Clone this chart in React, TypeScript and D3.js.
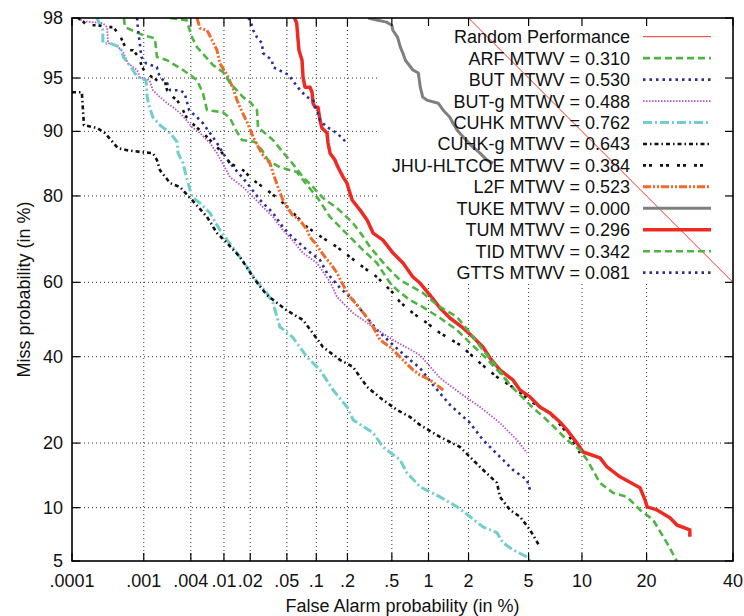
import React from "react";
import * as d3 from "d3";

// ---------- axis ticks ----------
const xTickValues = [0.0001, 0.001, 0.004, 0.01, 0.02, 0.05, 0.1, 0.2, 0.5, 1, 2, 5, 10, 20, 40];
const xTickLabels = [".0001", ".001", ".004", ".01", ".02", ".05", ".1", ".2", ".5", "1", "2", "5", "10", "20", "40"];
const yTickValues = [5, 10, 20, 40, 60, 80, 90, 95, 98];
const yTickLabels = ["5", "10", "20", "40", "60", "80", "90", "95", "98"];

// ---------- series (False alarm %, Miss %) ----------
const randomFA = [2, 3, 5, 7, 10, 15, 20, 25, 30, 35, 40];
const randomMiss = [98, 97, 95, 93, 90, 85, 80, 75, 70, 65, 60];

const arfFA = [0.00054, 0.00056, 0.001, 0.0014, 0.00149, 0.00201, 0.0032, 0.00476, 0.00563, 0.0063, 0.00973, 0.01178, 0.01416, 0.01616, 0.02266, 0.027, 0.0314, 0.0422, 0.0634, 0.0807, 0.1016, 0.1365, 0.1704, 0.2115, 0.2787, 0.371, 0.482, 0.553, 0.709, 0.904, 1.228, 1.649, 2.05, 2.607, 3.288, 4.112];
const arfMiss = [98, 97.68, 97.35, 97.23, 96.31, 96.13, 95.54, 94.85, 93.83, 92.3, 92.11, 91.48, 89.92, 88.92, 88.67, 87.56, 86.12, 85.02, 84.24, 82.0, 79.8, 75.76, 73.54, 71.27, 68.19, 64.98, 59.82, 57.98, 55.28, 53.38, 50.41, 47.16, 43.66, 39.92, 35.8, 31.56];

const butFA = [0.000815, 0.00084, 0.000886, 0.00093, 0.00107, 0.00149, 0.00154, 0.00179, 0.00201, 0.0022, 0.00294, 0.00336, 0.00353, 0.00381, 0.00476, 0.00563, 0.00684, 0.00828, 0.00973, 0.01178, 0.01846, 0.0257, 0.0356, 0.0454, 0.057, 0.0807, 0.1088, 0.1275, 0.1704, 0.2256, 0.2904, 0.371, 0.512, 0.709, 0.855, 1.085, 1.462, 2.05, 2.525, 3.288, 3.992, 4.888, 5.097];
const butMiss = [98, 97.56, 97.01, 96.31, 95.95, 95.72, 95.34, 94.85, 94.64, 94.08, 94.08, 93.83, 93.25, 92.3, 91.59, 90.94, 89.8, 88.54, 87.14, 85.65, 82.35, 79.22, 76.58, 73.54, 71.27, 68.19, 65.74, 62.43, 58.51, 55.28, 51.22, 47.16, 43.12, 39.14, 37.08, 32.79, 28.04, 24.06, 20.6, 17.48, 15.29, 13.73, 12.31];

const butgFA = [0.000122, 0.000144, 0.000277, 0.000317, 0.000328, 0.000435, 0.000533, 0.000615, 0.000815, 0.000886, 0.00119, 0.00132, 0.00163, 0.00201, 0.0024, 0.00294, 0.00353, 0.00414, 0.00518, 0.00684, 0.00828, 0.01178, 0.0166, 0.0216, 0.0277, 0.0356, 0.0454, 0.057, 0.0735, 0.1016, 0.1365, 0.1594, 0.2256, 0.3428, 0.512, 0.855, 1.228, 1.735, 2.41, 3.288, 4.233, 4.888];
const butgMiss = [98, 97.89, 97.82, 97.68, 97.01, 96.91, 96.52, 95.95, 95.54, 95.07, 94.85, 94.08, 93.51, 92.97, 92.59, 92.01, 91.27, 90.5, 89.8, 88.54, 87.14, 83.39, 81.66, 79.8, 77.81, 75.76, 72.88, 70.57, 67.46, 64.98, 60.1, 56.09, 51.76, 47.97, 44.46, 40.45, 34.51, 30.83, 27.57, 24.06, 20.6, 18.17];

const cuhkFA = [0.000228, 0.000277, 0.000277, 0.000349, 0.000478, 0.000533, 0.000615, 0.000719, 0.000815, 0.00107, 0.00111, 0.00119, 0.00132, 0.00163, 0.0022, 0.0027, 0.00277, 0.0032, 0.00353, 0.00414, 0.00518, 0.00684, 0.00897, 0.0109, 0.01416, 0.01846, 0.0244, 0.0306, 0.0356, 0.0422, 0.057, 0.0807, 0.1088, 0.1459, 0.198, 0.2256, 0.3428, 0.419, 0.586, 0.67, 0.855, 1.228, 1.649, 2.05, 2.525, 3.142, 3.444, 3.992, 4.888, 5.097];
const cuhkMiss = [98, 97.56, 97.01, 97.01, 96.82, 96.31, 95.95, 95.54, 95.07, 94.85, 93.51, 92.59, 91.59, 90.72, 89.8, 88.67, 87.14, 85.65, 83.39, 79.8, 78.63, 76.58, 72.88, 70.57, 67.46, 63.96, 59.82, 57.17, 54.47, 47.97, 45.27, 39.92, 36.57, 31.56, 27.57, 24.71, 22.01, 19.26, 16.96, 14.82, 12.73, 11.35, 10.09, 8.96, 7.89, 7.32, 6.41, 5.84, 5.29, 5.0];

const cuhkgFA = [0.0001, 0.000139, 0.000149, 0.000228, 0.000296, 0.000449, 0.000596, 0.000952, 0.00132, 0.00149, 0.00163, 0.0022, 0.00294, 0.00381, 0.00414, 0.0063, 0.00828, 0.0109, 0.01533, 0.02266, 0.0306, 0.0493, 0.0735, 0.1165, 0.1704, 0.2256, 0.3029, 0.419, 0.553, 0.709, 0.855, 1.228, 1.735, 2.41, 3.142, 3.288, 3.822, 4.423, 5.097, 5.847];
const cuhkgMiss = [93.92, 93.92, 90.72, 90.4, 89.8, 87.84, 87.56, 87.28, 87.14, 86.12, 84.55, 82.35, 81.66, 79.8, 79.22, 75.76, 72.2, 69.87, 66.47, 60.61, 56.63, 52.57, 49.86, 42.58, 39.14, 37.34, 32.3, 29.2, 26.9, 25.36, 23.65, 21.19, 19.26, 15.76, 13.29, 11.35, 9.73, 8.96, 7.6, 6.08];

const jhuFA = [0.000122, 0.000169, 0.000228, 0.000317, 0.000384, 0.000478, 0.000533, 0.000596, 0.000719, 0.000815, 0.000886, 0.000952, 0.00107, 0.00128, 0.00149, 0.0019, 0.00201, 0.0024, 0.0027, 0.0032, 0.00353, 0.00414, 0.00563, 0.00743, 0.00897, 0.01178, 0.0166, 0.0216, 0.0277, 0.0422, 0.057, 0.0807, 0.1165, 0.1594, 0.2115, 0.2787, 0.371, 0.512, 0.586, 0.75, 0.973, 1.228, 1.735, 2.41, 3.142, 4.233, 5.32, 6.69, 8.32, 9.77];
const jhuMiss = [98, 97.75, 97.75, 97.68, 97.68, 97.35, 97.01, 96.67, 96.67, 96.42, 96.13, 95.72, 95.34, 95.07, 94.85, 94.71, 94.08, 93.51, 93.25, 92.3, 91.59, 90.94, 89.8, 88.54, 87.56, 85.65, 84.55, 82.87, 81.66, 79.22, 76.78, 73.54, 71.04, 68.93, 66.47, 63.96, 61.4, 57.17, 54.74, 51.76, 49.05, 46.34, 43.12, 38.37, 34.77, 31.56, 28.5, 26.24, 22.01, 18.17];

const l2fFA = [0.00476, 0.00518, 0.0063, 0.00743, 0.00828, 0.00897, 0.0109, 0.01275, 0.01416, 0.01533, 0.01846, 0.0216, 0.0257, 0.0277, 0.033, 0.0356, 0.0402, 0.0454, 0.0493, 0.057, 0.0634, 0.0718, 0.0807, 0.0865, 0.0972, 0.1088, 0.1219, 0.1365, 0.1594, 0.182, 0.2115, 0.2458, 0.2904, 0.3428, 0.3945, 0.482, 0.586, 0.75, 0.855, 1.028, 1.3];
const l2fMiss = [98, 97.64, 97.56, 97.06, 96.67, 95.95, 95.2, 94.24, 93.25, 92.59, 91.05, 89.3, 87.56, 86.85, 85.65, 84.08, 81.66, 79.22, 78.22, 76.17, 75.53, 74.43, 72.88, 71.27, 69.87, 68.19, 66.47, 64.98, 62.43, 59.29, 56.09, 53.93, 51.22, 47.97, 44.46, 42.58, 39.92, 36.57, 35.28, 34.02, 31.56];

const tukeFA = [0.31, 0.37, 0.45, 0.5, 0.51, 0.56, 0.59, 0.62, 0.65, 0.75, 0.83, 0.86, 0.9, 0.97, 1.19, 1.3, 1.46, 1.54, 1.65, 1.83, 2.15, 2.41, 2.69, 2.96];
const tukeMiss = [98, 97.93, 97.86, 97.75, 97.56, 97.27, 96.82, 96.52, 96.13, 95.54, 95.34, 94.32, 93.51, 93.25, 92.97, 92.3, 91.59, 90.94, 90.17, 89.3, 87.98, 87.14, 86.12, 85.65];

const tumFA = [0.0601, 0.0633, 0.065, 0.0668, 0.0718, 0.0735, 0.077, 0.0865, 0.0907, 0.0928, 0.0972, 0.1039, 0.1088, 0.1138, 0.1275, 0.1304, 0.1365, 0.1525, 0.1594, 0.182, 0.198, 0.221, 0.262, 0.303, 0.343, 0.419, 0.512, 0.621, 0.75, 0.855, 1.028, 1.228, 1.462, 1.825, 2.15, 2.525, 2.823, 3.288, 3.992, 4.423, 5.097, 5.847, 6.68, 7.61, 8.32, 9.42, 10.13, 12.33, 13.33, 15.32, 18.77, 19.71, 20.1, 22.03, 24.74, 26.26, 29.21, 29.21];
const tumMiss = [98, 97.82, 97.27, 96.67, 96.13, 95.07, 94.32, 94.32, 93.92, 92.97, 92.59, 92.59, 91.27, 90.4, 89.8, 88.54, 87.14, 86.12, 85.33, 83.39, 82.35, 79.22, 77.19, 75.09, 72.2, 70.57, 67.46, 64.98, 61.4, 59.82, 56.63, 53.11, 50.41, 47.7, 45.27, 42.58, 39.66, 36.57, 34.02, 31.56, 29.9, 27.57, 26.24, 24.27, 22.62, 20.0, 18.34, 17.3, 15.76, 14.2, 12.59, 10.97, 10.09, 9.73, 8.85, 8.08, 7.6, 6.94];

const tidFA = [0.0022, 0.00353, 0.00414, 0.00476, 0.00743, 0.00973, 0.01178, 0.0166, 0.02, 0.0238, 0.0244, 0.0356, 0.0454, 0.057, 0.0735, 0.0929, 0.1165, 0.1594, 0.2256, 0.273, 0.322, 0.454, 0.586, 0.904, 1.165, 1.649, 2.05, 2.525, 3.142, 3.822, 5.097, 6.69, 8.32, 9.77, 10.62, 12.33, 14.22, 16.47, 18.77, 21.25, 24.1, 26.26];
const tidMiss = [98, 97.93, 97.27, 96.82, 95.84, 95.41, 94.64, 93.51, 93.06, 92.3, 90.5, 88.92, 87.28, 85.65, 83.39, 81.66, 79.61, 77.6, 74.43, 71.73, 68.93, 63.96, 60.61, 57.17, 53.93, 50.68, 46.34, 41.78, 37.34, 32.79, 28.04, 24.06, 20.6, 18.71, 16.96, 13.29, 11.89, 11.35, 9.73, 8.63, 6.41, 5.0];

const gttsFA = [0.019, 0.02, 0.0216, 0.0238, 0.027, 0.0277, 0.0347, 0.0356, 0.0454, 0.0527, 0.057, 0.0687, 0.0807, 0.0929, 0.1016, 0.1088, 0.1275, 0.159, 0.198];
const gttsMiss = [98, 97.93, 97.56, 97.27, 97.01, 96.52, 96.13, 95.72, 95.41, 95.2, 94.85, 94.08, 93.51, 93.25, 92.3, 91.27, 90.5, 89.8, 88.54];

const seriesLabels = [
  "Random Performance",
  "ARF MTWV = 0.310",
  "BUT MTWV = 0.530",
  "BUT-g MTWV = 0.488",
  "CUHK MTWV = 0.762",
  "CUHK-g MTWV = 0.643",
  "JHU-HLTCOE MTWV = 0.384",
  "L2F MTWV = 0.523",
  "TUKE MTWV = 0.000",
  "TUM MTWV = 0.296",
  "TID MTWV = 0.342",
  "GTTS MTWV = 0.081",
];

// ---------- styles ----------
const GREEN = "#4fb443";
const BLUE = "#2b2d96";
const styles = [
  { color: "#e8352e", width: 1, dash: "none" },
  { color: GREEN, width: 2.6, dash: "7,4" },
  { color: BLUE, width: 2.6, dash: "2.5,4" },
  { color: "#b452c8", width: 1.8, dash: "1.5,1.5" },
  { color: "#72cdcd", width: 3, dash: "9,3,2,3" },
  { color: "#111111", width: 2.6, dash: "4,3,1.5,3" },
  { color: "#111111", width: 2.6, dash: "3,3,3,8" },
  { color: "#f26a2a", width: 3, dash: "8,2,2,2,2,2" },
  { color: "#7f7f7f", width: 3, dash: "none" },
  { color: "#ee2b23", width: 3.5, dash: "none" },
  { color: GREEN, width: 2.6, dash: "7,4" },
  { color: BLUE, width: 2.6, dash: "2.5,4" },
];

const seriesData: [number[], number[]][] = [
  [randomFA, randomMiss],
  [arfFA, arfMiss],
  [butFA, butMiss],
  [butgFA, butgMiss],
  [cuhkFA, cuhkMiss],
  [cuhkgFA, cuhkgMiss],
  [jhuFA, jhuMiss],
  [l2fFA, l2fMiss],
  [tukeFA, tukeMiss],
  [tumFA, tumMiss],
  [tidFA, tidMiss],
  [gttsFA, gttsMiss],
];

// inverse of the standard normal CDF (Acklam)
function probit(p: number): number {
  const a = [-3.969683028665376e1, 2.209460984245205e2, -2.759285104469687e2, 1.38357751867269e2, -3.066479806614716e1, 2.506628277459239];
  const b = [-5.447609879822406e1, 1.615858368580409e2, -1.556989798598866e2, 6.680131188771972e1, -1.328068155288572e1];
  const c = [-7.784894002430293e-3, -3.223964580411365e-1, -2.400758277161838, -2.549732539343734, 4.374664141464968, 2.938163982698783];
  const d = [7.784695709041462e-3, 3.224671290700398e-1, 2.445134137142996, 3.754408661907416];
  const pl = 0.02425;
  if (p < pl) {
    const q = Math.sqrt(-2 * Math.log(p));
    return (((((c[0] * q + c[1]) * q + c[2]) * q + c[3]) * q + c[4]) * q + c[5]) / ((((d[0] * q + d[1]) * q + d[2]) * q + d[3]) * q + 1);
  }
  if (p <= 1 - pl) {
    const q = p - 0.5;
    const r = q * q;
    return ((((((a[0] * r + a[1]) * r + a[2]) * r + a[3]) * r + a[4]) * r + a[5]) * q) / (((((b[0] * r + b[1]) * r + b[2]) * r + b[3]) * r + b[4]) * r + 1);
  }
  const q = Math.sqrt(-2 * Math.log(1 - p));
  return -(((((c[0] * q + c[1]) * q + c[2]) * q + c[3]) * q + c[4]) * q + c[5]) / ((((d[0] * q + d[1]) * q + d[2]) * q + d[3]) * q + 1);
}

const W = 744;
const H = 616;
const L = 72, R = 733, T = 18, B = 561;
const KEY_X = 378, KEY_Y = 284;
const FONT = "'Liberation Sans', Arial, Helvetica, sans-serif";

export default function App() {
  const xs = d3.scaleLinear().domain([probit(0.0001 / 100), probit(40 / 100)]).range([L, R]);
  const ys = d3.scaleLinear().domain([probit(0.05), probit(0.98)]).range([B, T]);
  const X = (v: number) => xs(probit(v / 100));
  const Y = (v: number) => ys(probit(v / 100));

  const line = d3
    .line<[number, number]>()
    .x((p) => X(p[0]))
    .y((p) => Y(p[1]));

  const tickLen = 8;
  const legendRow0 = 36.7;
  const legendStep = 21.45;

  return (
    <svg width={W} height={H} style={{ position: "absolute", left: 0, top: 0, background: "#fff" }} fontFamily={FONT}>
      <defs>
        <clipPath id="plotclip">
          <rect x={L} y={T} width={R - L} height={B - T} />
        </clipPath>
      </defs>
      <rect x={0} y={0} width={W} height={H} fill="#fff" />
      {/* grid */}
      <g stroke="#333" strokeWidth={1} strokeDasharray="1,3">
        {xTickValues.slice(1, -1).map((v, i) => {
          const x = X(v);
          const y1 = x > KEY_X ? KEY_Y : T;
          return <line key={"gx" + i} x1={x} x2={x} y1={y1} y2={B} />;
        })}
        {yTickValues.slice(1, -1).map((v, i) => {
          const y = Y(v);
          const x2 = y < KEY_Y ? KEY_X : R;
          return <line key={"gy" + i} x1={L} x2={x2} y1={y} y2={y} />;
        })}
      </g>
      {/* curves */}
      <g clipPath="url(#plotclip)" fill="none">
        {seriesData.map(([fa, miss], i) => {
          const pts = fa.map((f, j) => [f, miss[j]] as [number, number]);
          const s = styles[i];
          return (
            <path
              key={"s" + i}
              d={line(pts) || ""}
              stroke={s.color}
              strokeWidth={s.width}
              strokeDasharray={s.dash}
              strokeLinejoin="round"
            />
          );
        })}
      </g>
      {/* frame & ticks */}
      <g stroke="#000" strokeWidth={1.2}>
        {xTickValues.map((v, i) => {
          const x = X(v);
          return (
            <g key={"tx" + i}>
              <line x1={x} x2={x} y1={B} y2={B - tickLen} />
              <line x1={x} x2={x} y1={T} y2={T + tickLen} />
            </g>
          );
        })}
        {yTickValues.map((v, i) => {
          const y = Y(v);
          return (
            <g key={"ty" + i}>
              <line x1={L} x2={L + tickLen} y1={y} y2={y} />
              <line x1={R} x2={R - tickLen} y1={y} y2={y} />
            </g>
          );
        })}
      </g>
      <rect x={L} y={T} width={R - L} height={B - T} fill="none" stroke="#000" strokeWidth={1.6} />
      {/* tick labels */}
      <g fontSize={18} fill="#111">
        {xTickValues.map((v, i) => (
          <text key={"lx" + i} x={X(v)} y={587} textAnchor="middle">
            {xTickLabels[i]}
          </text>
        ))}
        {yTickValues.map((v, i) => (
          <text key={"ly" + i} x={63} y={Y(v) + 6} textAnchor="end">
            {yTickLabels[i]}
          </text>
        ))}
      </g>
      {/* axis titles */}
      <text x={(L + R) / 2} y={612} textAnchor="middle" fontSize={18} fill="#111">
        False Alarm probability (in %)
      </text>
      <text transform={`translate(30, ${(T + B) / 2}) rotate(-90)`} textAnchor="middle" fontSize={18} fill="#111">
        Miss probability (in %)
      </text>
      {/* legend */}
      <g fontSize={18} fill="#111">
        {seriesLabels.map((lab, i) => {
          const y = legendRow0 + i * legendStep;
          const s = styles[i];
          return (
            <g key={"k" + i}>
              <text x={630} y={y + 6.5} textAnchor="end">
                {lab}
              </text>
              <line x1={643} x2={711} y1={y} y2={y} stroke={s.color} strokeWidth={s.width} strokeDasharray={s.dash} />
            </g>
          );
        })}
      </g>
    </svg>
  );
}
